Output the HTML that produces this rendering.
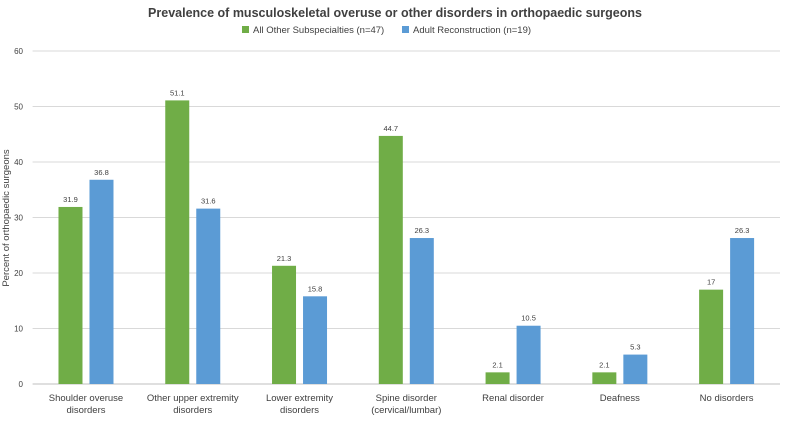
<!DOCTYPE html>
<html><head><meta charset="utf-8"><style>
body{margin:0;background:#fff;font-family:"Liberation Sans",sans-serif}
svg text{font-family:"Liberation Sans",sans-serif;fill:#404040}
</style></head><body>
<svg id="chart" width="789" height="419" viewBox="0 0 789 419" xmlns="http://www.w3.org/2000/svg">
<text x="395" y="17" text-anchor="middle" font-size="12.5" font-weight="bold" fill="#595959">Prevalence of musculoskeletal overuse or other disorders in orthopaedic surgeons</text>
<g>
<g><rect x="242" y="26" width="7" height="7" fill="#70ad47"/><text x="253" y="33" font-size="9.5">All Other Subspecialties (n=47)</text></g>
<g><rect x="402" y="26" width="7" height="7" fill="#5b9bd5"/><text x="413" y="33" font-size="9.5">Adult Reconstruction (n=19)</text></g>
</g>
<text transform="translate(9,218) rotate(-90)" text-anchor="middle" font-size="9.5">Percent of orthopaedic surgeons</text>
<g id="grid"></g><g id="bars"></g><g id="labels"></g>
</svg>
<script>
const categories=[["Shoulder overuse","disorders"],["Other upper extremity","disorders"],["Lower extremity","disorders"],["Spine disorder","(cervical/lumbar)"],["Renal disorder"],["Deafness"],["No disorders"]];
const otherValues=[31.9,51.1,21.3,44.7,2.1,2.1,17];
const adultValues=[36.8,31.6,15.8,26.3,10.5,5.3,26.3];
const yTicks=[0,10,20,30,40,50,60];
const NS="http://www.w3.org/2000/svg";
const L=32.6,R=780,T=51,B=384,yMax=60;
const y=v=>B-(v/yMax)*(B-T);
const bw=(R-L)/categories.length;
const cx=i=>L+bw*(i+0.5);
function mk(tag,attrs,parent,text){const e=document.createElementNS(NS,tag);for(const k in attrs)e.setAttribute(k,attrs[k]);if(text!==undefined)e.textContent=text;document.getElementById(parent).appendChild(e);return e;}
yTicks.forEach(t=>{
 const g=mk('line',{x1:L,x2:R,y1:y(t),y2:y(t),stroke:t===0?'#bfbfbf':'#d9d9d9','stroke-width':1},'grid');
 
 
 const tx=mk('text',{x:23,y:y(t)+3,'text-anchor':'end','font-size':8},'grid',String(t));
 
 
});
const w=24,gap=7;
categories.forEach((c,i)=>{
 const x0=cx(i)-gap/2-w, x1=cx(i)+gap/2;
 [[otherValues[i],x0,'#70ad47','bar-other'],[adultValues[i],x1,'#5b9bd5','bar-adult']].forEach(([v,x,col,nm])=>{
  const r=mk('rect',{x:x,y:y(v),width:w,height:B-y(v),fill:col},'bars');
  
  
  const t=mk('text',{x:x+w/2,y:y(v)-5,'text-anchor':'middle','font-size':7.5},'labels',String(v));
  
  
 });
 c.forEach((ln,j)=>{
  const t=mk('text',{x:cx(i),y:401+j*12,'text-anchor':'middle','font-size':9.5},'labels',ln);
  
  
 });
});
</script>
</body></html>
